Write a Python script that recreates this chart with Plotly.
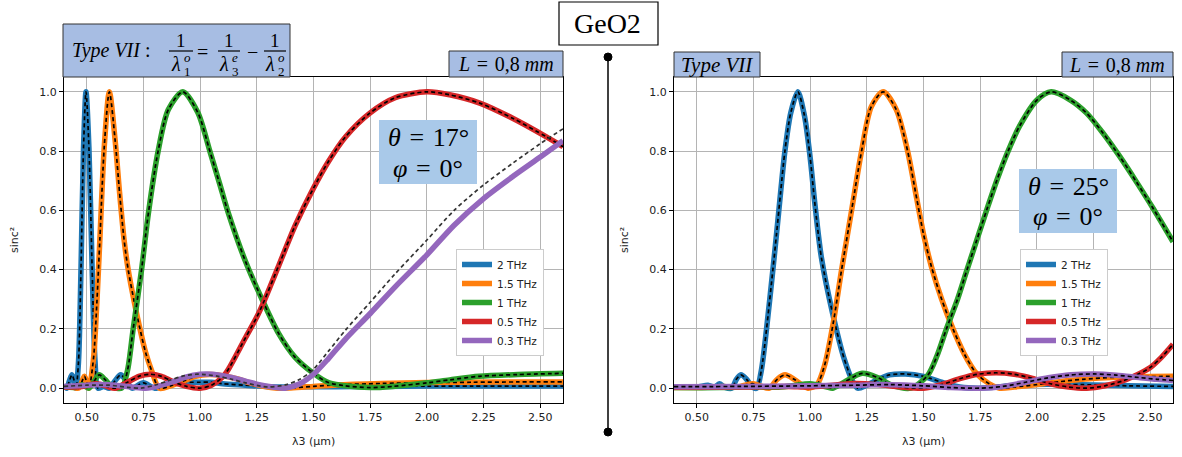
import plotly.graph_objects as go

W, H = 1182, 457

# ---------------- data ----------------
freq_labels = ["2 THz", "1.5 THz", "1 THz", "0.5 THz", "0.3 THz"]
x_tick_vals = [0.50, 0.75, 1.00, 1.25, 1.50, 1.75, 2.00, 2.25, 2.50]
y_tick_vals = [0.0, 0.2, 0.4, 0.6, 0.8, 1.0]

# Left panel (theta = 17 deg)
x_blue_l = [0.40, 0.412, 0.424, 0.435, 0.445, 0.453, 0.464, 0.475, 0.486, 0.497, 0.510, 0.524, 0.537, 0.550,
            0.575, 0.60, 0.625, 0.65, 0.675, 0.70, 0.75, 0.80, 0.85, 0.90, 0.95, 1.00, 1.05, 1.10, 1.20, 1.30,
            1.40, 1.60, 1.80, 2.00, 2.20, 2.40, 2.60]
y_blue_l = [0.012, 0.0, 0.025, 0.045, 0.025, 0.0, 0.09, 0.405, 0.81, 1.0, 0.81, 0.405, 0.09, 0.0,
            0.006, 0.0, 0.025, 0.045, 0.025, 0.0, 0.018, 0.0, 0.01, 0.02, 0.02, 0.02, 0.02, 0.015, 0.01, 0.005,
            0.004, 0.005, 0.006, 0.007, 0.007, 0.007, 0.007]

x_orange_l = [0.40, 0.44, 0.465, 0.49, 0.50, 0.51, 0.53, 0.545, 0.558, 0.578, 0.60, 0.625, 0.645, 0.665,
              0.683, 0.71, 0.735, 0.76, 0.786, 0.82, 0.87, 0.93, 0.98, 1.04, 1.10, 1.16, 1.22, 1.28, 1.34,
              1.40, 1.50, 1.60, 1.80, 2.00, 2.20, 2.40, 2.60]
y_orange_l = [0.005, 0.003, 0.0, 0.04, 0.02, 0.0, 0.1, 0.29, 0.5, 0.82, 1.0, 0.84, 0.66, 0.5,
              0.4, 0.29, 0.2, 0.12, 0.06, 0.0, 0.008, 0.025, 0.04, 0.046, 0.042, 0.032, 0.018, 0.006, 0.0,
              0.001, 0.006, 0.011, 0.016, 0.019, 0.02, 0.021, 0.021]

x_green_l = [0.40, 0.45, 0.48, 0.51, 0.53, 0.555, 0.58, 0.61, 0.654, 0.68, 0.705, 0.742, 0.772, 0.815, 0.86,
             0.924, 0.99, 1.043, 1.09, 1.125, 1.199, 1.279, 1.346, 1.419, 1.50, 1.566, 1.64, 1.75, 1.85, 2.00,
             2.10, 2.23, 2.40, 2.60]
y_green_l = [0.005, 0.003, 0.012, 0.0, 0.02, 0.045, 0.03, 0.006, 0.0, 0.06, 0.2, 0.4, 0.59, 0.8, 0.94,
             1.0, 0.93, 0.8, 0.68, 0.59, 0.43, 0.29, 0.185, 0.104, 0.05, 0.019, 0.008, 0.002, 0.006, 0.018,
             0.028, 0.04, 0.046, 0.05]

x_red_l = [0.40, 0.48, 0.545, 0.59, 0.625, 0.68, 0.73, 0.78, 0.83, 0.88, 0.94, 1.00, 1.05, 1.10, 1.125,
           1.20, 1.25, 1.28, 1.35, 1.42, 1.50, 1.566, 1.64, 1.75, 1.86, 2.00, 2.10, 2.233, 2.38, 2.525, 2.60]
y_red_l = [0.004, 0.006, 0.015, 0.006, 0.0, 0.02, 0.04, 0.047, 0.04, 0.022, 0.006, 0.0, 0.01, 0.038, 0.064,
           0.17, 0.24, 0.29, 0.42, 0.55, 0.675, 0.765, 0.847, 0.929, 0.98, 1.0, 0.99, 0.962, 0.91, 0.849, 0.815]

x_purple_l = [0.40, 0.50, 0.60, 0.70, 0.76, 0.82, 0.88, 0.94, 1.00, 1.03, 1.08, 1.14, 1.20, 1.26, 1.32, 1.375,
              1.44, 1.50, 1.566, 1.64, 1.75, 1.86, 2.00, 2.12, 2.25, 2.38, 2.50, 2.60]
y_purple_l = [0.006, 0.01, 0.012, 0.004, 0.0, 0.008, 0.022, 0.038, 0.047, 0.048, 0.045, 0.036, 0.024, 0.012,
              0.004, 0.0, 0.015, 0.047, 0.10, 0.165, 0.252, 0.342, 0.45, 0.55, 0.64, 0.715, 0.78, 0.835]

# dashed model curve for 0.3 THz (left panel), slightly ahead of the purple curve
x_model03_l = [0.40, 0.50, 0.60, 0.68, 0.74, 0.80, 0.86, 0.92, 0.98, 1.02, 1.08, 1.14, 1.20, 1.26, 1.30,
               1.375, 1.44, 1.50, 1.566, 1.64, 1.75, 1.86, 2.00, 2.12, 2.25, 2.38, 2.50, 2.60]
y_model03_l = [0.006, 0.01, 0.01, 0.003, 0.0, 0.01, 0.025, 0.04, 0.047, 0.046, 0.04, 0.03, 0.018, 0.008, 0.004,
               0.011, 0.03, 0.064, 0.125, 0.195, 0.29, 0.386, 0.50, 0.60, 0.686, 0.76, 0.825, 0.875]

# Right panel (theta = 25 deg)
x_blue_r = [0.40, 0.50, 0.55, 0.58, 0.60, 0.625, 0.655, 0.675, 0.695, 0.72, 0.745, 0.765, 0.785, 0.808, 0.836,
            0.852, 0.87, 0.889, 0.915, 0.946, 0.975, 1.00, 1.02, 1.05, 1.10, 1.15, 1.19, 1.21, 1.25, 1.30,
            1.35, 1.42, 1.50, 1.58, 1.66, 1.75, 1.85, 1.95, 2.05, 2.20, 2.40, 2.60]
y_blue_r = [0.003, 0.004, 0.01, 0.003, 0.015, 0.003, 0.0, 0.03, 0.045, 0.03, 0.004, 0.0, 0.06, 0.2, 0.4,
            0.52, 0.66, 0.8, 0.93, 1.0, 0.92, 0.78, 0.63, 0.44, 0.25, 0.1, 0.02, 0.0, 0.01, 0.03,
            0.045, 0.048, 0.04, 0.02, 0.004, 0.0, 0.006, 0.012, 0.013, 0.012, 0.008, 0.006]

x_orange_r = [0.40, 0.55, 0.62, 0.68, 0.72, 0.75, 0.78, 0.82, 0.855, 0.89, 0.93, 0.99, 1.03, 1.065, 1.102,
              1.139, 1.183, 1.227, 1.27, 1.322, 1.38, 1.43, 1.47, 1.50, 1.535, 1.58, 1.63, 1.68, 1.733, 1.79,
              1.836, 1.90, 2.00, 2.10, 2.20, 2.35, 2.50, 2.60]
y_orange_r = [0.002, 0.003, 0.006, 0.003, 0.012, 0.015, 0.008, 0.0, 0.03, 0.045, 0.03, 0.0, 0.012, 0.08, 0.22,
              0.4, 0.6, 0.8, 0.95, 1.0, 0.94, 0.8, 0.64, 0.52, 0.41, 0.3, 0.2, 0.115, 0.05, 0.015,
              0.0, 0.004, 0.012, 0.022, 0.03, 0.037, 0.039, 0.04]

x_green_r = [0.40, 0.60, 0.75, 0.85, 0.92, 1.00, 1.07, 1.10, 1.15, 1.23, 1.30, 1.36, 1.445, 1.52, 1.56,
             1.601, 1.65, 1.692, 1.735, 1.778, 1.825, 1.873, 1.924, 2.00, 2.063, 2.144, 2.218, 2.291, 2.365,
             2.438, 2.512, 2.60]
y_green_r = [0.002, 0.002, 0.005, 0.003, 0.008, 0.015, 0.005, 0.0, 0.02, 0.05, 0.035, 0.01, 0.0, 0.045, 0.11,
             0.2, 0.3, 0.4, 0.5, 0.6, 0.705, 0.8, 0.885, 0.972, 1.0, 0.974, 0.929, 0.861, 0.782,
             0.697, 0.607, 0.494]

x_red_r = [0.40, 0.70, 0.90, 1.00, 1.10, 1.20, 1.30, 1.40, 1.50, 1.58, 1.66, 1.74, 1.82, 1.90, 1.98, 2.06,
           2.14, 2.22, 2.30, 2.38, 2.44, 2.50, 2.55, 2.60]
y_red_r = [0.003, 0.004, 0.006, 0.004, 0.01, 0.016, 0.012, 0.004, 0.0, 0.012, 0.032, 0.047, 0.052, 0.047,
           0.033, 0.015, 0.004, 0.0, 0.008, 0.025, 0.045, 0.07, 0.105, 0.148]

x_purple_r = [0.40, 0.70, 1.00, 1.20, 1.35, 1.50, 1.62, 1.75, 1.85, 1.95, 2.05, 2.15, 2.25, 2.35, 2.45, 2.53, 2.60]
y_purple_r = [0.005, 0.006, 0.008, 0.01, 0.012, 0.008, 0.002, 0.0, 0.006, 0.02, 0.035, 0.045, 0.048, 0.044,
              0.036, 0.03, 0.026]

# ---------------- helpers ----------------
colors = ["#1f77b4", "#ff7f0e", "#2ca02c", "#d62728", "#9467bd"]


def fx(p):
    return p / W


def fy(p):
    return 1 - p / H


fig = go.Figure()

left_sets = [(x_blue_l, y_blue_l), (x_orange_l, y_orange_l), (x_green_l, y_green_l),
             (x_red_l, y_red_l), (x_purple_l, y_purple_l)]
left_dash = [(x_blue_l, y_blue_l), (x_orange_l, y_orange_l), (x_green_l, y_green_l),
             (x_red_l, y_red_l), (x_model03_l, y_model03_l)]
right_sets = [(x_blue_r, y_blue_r), (x_orange_r, y_orange_r), (x_green_r, y_green_r),
              (x_red_r, y_red_r), (x_purple_r, y_purple_r)]

for panel, (sets, dashes, xa, ya, leg) in enumerate([
        (left_sets, left_dash, "x", "y", "legend"),
        (right_sets, right_sets, "x2", "y2", "legend2")]):
    for i, ((xs, ys), (xd, yd)) in enumerate(zip(sets, dashes)):
        fig.add_trace(go.Scatter(x=xs, y=ys, mode="lines", name=freq_labels[i],
                                 line=dict(color=colors[i], width=5.5, shape="spline", smoothing=0.8),
                                 xaxis=xa, yaxis=ya, legend=leg, showlegend=True))
        dcol = "#333333" if (panel == 0 and i == 4) else "black"
        fig.add_trace(go.Scatter(x=xd, y=yd, mode="lines",
                                 line=dict(color=dcol, width=1.7, dash="4px,3px", shape="spline", smoothing=0.8),
                                 xaxis=xa, yaxis=ya, showlegend=False, hoverinfo="skip"))

axis_common = dict(range=[0.4, 2.6], showgrid=True, gridcolor="#b4b4b4", gridwidth=1, zeroline=False,
                   showline=True, linecolor="black", linewidth=1, mirror=True, ticks="outside", ticklen=4,
                   tickcolor="black", tickvals=x_tick_vals, tickformat=".2f",
                   tickfont=dict(family="DejaVu Sans", size=11, color="#222"))
yaxis_common = dict(range=[-0.05, 1.05], showgrid=True, gridcolor="#b4b4b4", gridwidth=1, zeroline=False,
                    showline=True, linecolor="black", linewidth=1, mirror=True, ticks="outside", ticklen=4,
                    tickcolor="black", tickvals=y_tick_vals, tickformat=".1f",
                    tickfont=dict(family="DejaVu Sans", size=11, color="#222"))

ydom = [fy(403), fy(77)]
fig.update_layout(
    width=W, height=H, autosize=False, margin=dict(l=0, r=0, t=0, b=0),
    paper_bgcolor="white", plot_bgcolor="white",
    xaxis=dict(domain=[fx(64), fx(563)], anchor="y", **axis_common),
    yaxis=dict(domain=ydom, anchor="x", **yaxis_common),
    xaxis2=dict(domain=[fx(674), fx(1173)], anchor="y2", **axis_common),
    yaxis2=dict(domain=ydom, anchor="x2", **yaxis_common),
    legend=dict(x=fx(456), y=fy(249), xanchor="left", yanchor="top", bgcolor="white",
                bordercolor="#cccccc", borderwidth=1, font=dict(family="DejaVu Sans", size=10.5, color="#222"),
                itemwidth=30, tracegroupgap=0),
    legend2=dict(x=fx(1020), y=fy(249), xanchor="left", yanchor="top", bgcolor="white",
                 bordercolor="#cccccc", borderwidth=1, font=dict(family="DejaVu Sans", size=10.5, color="#222"),
                 itemwidth=30, tracegroupgap=0),
    showlegend=True,
)

shapes = []
annotations = []
SERIF = "Liberation Serif"
title_fill = "#a7bde3"
theta_fill = "#a9c9e9"


def rect(x0, y0, x1, y1, fill, line_color="#333333", lw=1):
    shapes.append(dict(type="rect", xref="paper", yref="paper", x0=fx(x0), x1=fx(x1), y0=fy(y1), y1=fy(y0),
                       fillcolor=fill, line=dict(color=line_color, width=lw), layer="above"))


def text(x, y, s, size=18, family=SERIF, angle=0, color="black"):
    annotations.append(dict(x=fx(x), y=fy(y), xref="paper", yref="paper", text=s, showarrow=False,
                            xanchor="center", yanchor="middle", textangle=angle,
                            font=dict(family=family, size=size, color=color)))


# panel header boxes
rect(63, 24, 290, 77, title_fill)
rect(449, 51, 563, 77, title_fill)
rect(674, 52, 760, 77, title_fill)
rect(1062, 52, 1173, 77, title_fill)

# GeO2 box
rect(559, 2, 658, 45, "white", "black", 1.2)
text(608, 24, "GeO2", size=28)

# theta boxes
rect(379, 120, 477, 184, theta_fill, "rgba(0,0,0,0)", 0)
rect(1019, 169, 1117, 233, theta_fill, "rgba(0,0,0,0)", 0)
text(428, 137, "<i>θ</i>\u2004=\u200417°", size=26)
text(428, 168, "<i>φ</i>\u2004=\u20040°", size=26)
text(1068, 186, "<i>θ</i>\u2004=\u200425°", size=26)
text(1068, 217, "<i>φ</i>\u2004=\u20040°", size=26)

# header texts
text(111, 51, "<i>Type VII</i> :", size=20)
text(506, 64, "<i>L</i>\u2004=\u20040,8 <i>mm</i>", size=20)
text(1117, 65, "<i>L</i>\u2004=\u20040,8 <i>mm</i>", size=20)
text(717, 65, "<i>Type VII</i>", size=21)


def frac(cx, bx0, bx1, lam_x, idx_x, sup, sub):
    text(cx, 40, "1", size=19)
    shapes.append(dict(type="line", xref="paper", yref="paper", x0=fx(bx0), x1=fx(bx1), y0=fy(51), y1=fy(51),
                       line=dict(color="black", width=1.2), layer="above"))
    text(lam_x, 64, "<i>λ</i>", size=20)
    text(idx_x, 58, "<i>%s</i>" % sup, size=13)
    text(idx_x, 71, sub, size=13)


frac(181, 169, 193, 176, 187, "o", "1")
text(202, 52, "=", size=20)
frac(229, 218, 240, 224, 235, "e", "3")
text(252, 52, "−", size=20)
frac(275, 264, 286, 270, 281, "o", "2")

# axis titles
text(313, 441, "λ3 (µm)", size=11, family="DejaVu Sans", color="#222")
text(923, 441, "λ3 (µm)", size=11, family="DejaVu Sans", color="#222")
text(15, 240, "sinc²", size=11, family="DejaVu Sans", angle=-90, color="#222")
text(625, 240, "sinc²", size=11, family="DejaVu Sans", angle=-90, color="#222")

# divider with end dots
shapes.append(dict(type="line", xref="paper", yref="paper", x0=fx(608), x1=fx(608), y0=fy(57), y1=fy(432),
                   line=dict(color="black", width=1.5), layer="above"))
for cy in (57, 432):
    shapes.append(dict(type="circle", xref="paper", yref="paper", x0=fx(604), x1=fx(612), y0=fy(cy + 4),
                       y1=fy(cy - 4), fillcolor="black", line=dict(color="black", width=1), layer="above"))

fig.update_layout(shapes=shapes, annotations=annotations)
fig.write_html("out.html", config={"displayModeBar": False},
               post_script="document.body.style.margin='0';document.body.style.overflow='hidden';")
